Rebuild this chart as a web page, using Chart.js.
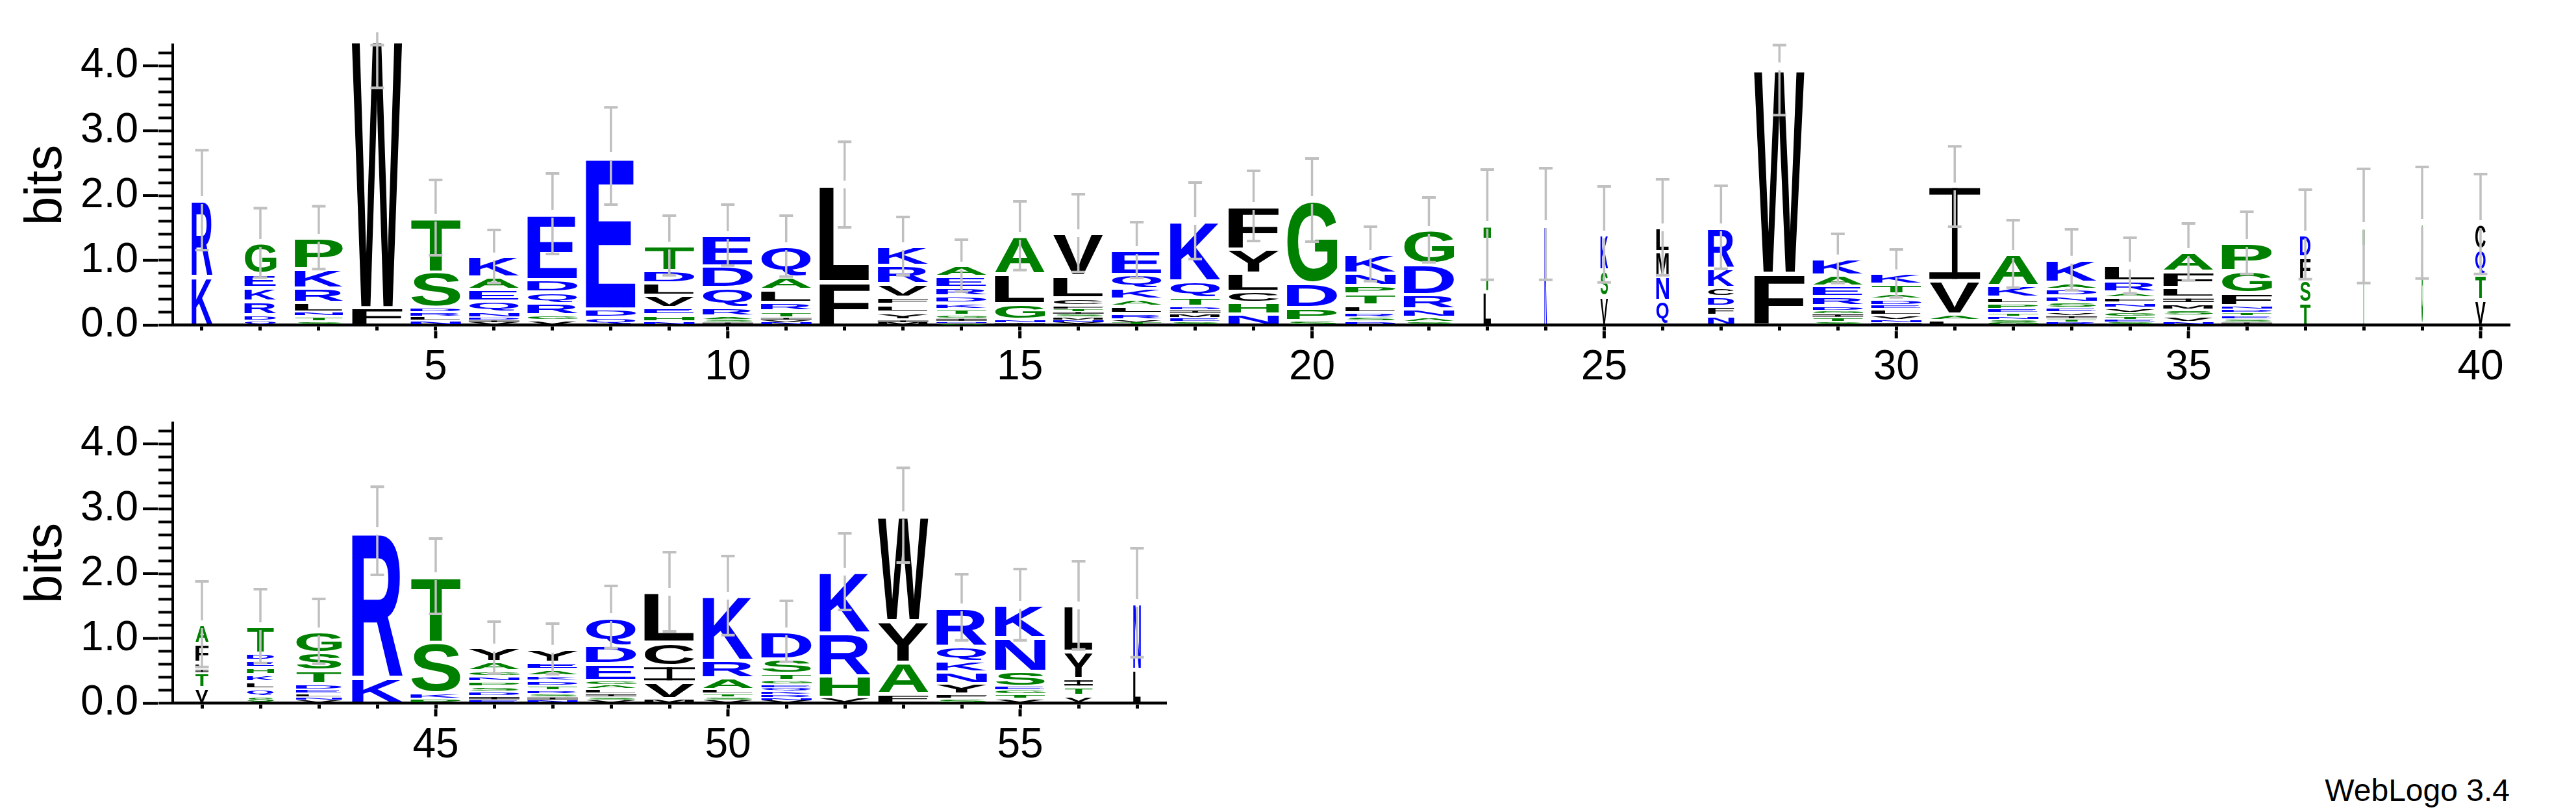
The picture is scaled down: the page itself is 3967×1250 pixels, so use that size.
<!DOCTYPE html>
<html>
<head>
<meta charset="utf-8">
<title>WebLogo</title>
<script src="https://cdn.jsdelivr.net/npm/chart.js@4.4.1/dist/chart.umd.min.js"></script>
<style>
  body { margin: 0; background: #fff; width: 3967px; height: 1250px; position: relative; overflow: hidden; }
  canvas { position: absolute; left: 0; }
  #logoTop { top: 0; }
  #logoBottom { top: 582px; }
  #credit { position: absolute; right: 102px; top: 1193px; font: 48px "Liberation Sans", Arial, sans-serif; line-height: 48px; color: #000; }
</style>
</head>
<body>
<canvas id="logoTop" width="3967" height="620"></canvas>
<canvas id="logoBottom" width="1900" height="620"></canvas>
<div id="credit">WebLogo 3.4</div>
<script>
// ---- data: positions 1-40 (top row) ----
const topPositions = [1,2,3,4,5,6,7,8,9,10,11,12,13,14,15,16,17,18,19,20,21,22,23,24,25,26,27,28,29,30,31,32,33,34,35,36,37,38,39,40];
// letters of each stack, bottom -> top
const topLetters = ['KR','QDRKEG','STNLRKP','FW','NLRDST','VIDNQEAK','VGRQDE','QDE','NHEVLDT','ISARQDE',
  'NVITRLAQ','FL','MIYLFVRK','SNIGTKDREA','INGLA','YNMSITFCLV','TVRLAKQE','SEMIDTQK','NHCLYF','SPDG',
  'DSRLTPNK','SANRDG','LT','K','VSK','QNML','NFDCKR','FW','STIGDREAK','INVLEDATK',
  'LAVI','GSNTEPLKA','RTIVESNDAK','SETGVNFARL','NVSMILFA','ISETDNFGP','TSFD','T','G','VTQC'];
// bits of each letter, same order
const topHeights = [
  [0.75,1.18],[0.07,0.09,0.21,0.21,0.21,0.48],[0.06,0.08,0.06,0.15,0.22,0.30,0.48],[0.27,4.19],
  [0.07,0.06,0.07,0.07,0.55,0.84],[0.04,0.04,0.04,0.09,0.16,0.18,0.19,0.32],[0.08,0.08,0.18,0.17,0.19,1.02],
  [0.12,0.13,2.36],[0.06,0.10,0.11,0.19,0.19,0.19,0.39],[0.05,0.04,0.05,0.13,0.31,0.33,0.48],
  [0.04,0.04,0.04,0.10,0.13,0.20,0.20,0.47],[0.67,1.50],[0.04,0.04,0.12,0.12,0.11,0.21,0.28,0.30],
  [0.03,0.03,0.05,0.05,0.09,0.09,0.11,0.13,0.17,0.17],[0.04,0.05,0.24,0.46,0.59],
  [0.04,0.04,0.05,0.04,0.04,0.04,0.05,0.12,0.34,0.66],[0.04,0.05,0.09,0.11,0.11,0.17,0.21,0.38],
  [0.05,0.06,0.07,0.06,0.05,0.14,0.25,0.93],[0.17,0.18,0.17,0.28,0.37,0.67],[0.07,0.20,0.38,1.28],
  [0.06,0.06,0.07,0.12,0.17,0.13,0.19,0.30],[0.05,0.07,0.13,0.22,0.47,0.53],[0.52,1.03],[1.56],
  [0.45,0.40,0.55],[0.38,0.38,0.37,0.38],[0.15,0.14,0.15,0.14,0.30,0.63],[0.80,3.19],
  [0.05,0.07,0.06,0.04,0.08,0.14,0.16,0.17,0.26],[0.04,0.04,0.08,0.09,0.06,0.10,0.07,0.15,0.17],
  [0.08,0.09,0.52,1.45],[0.04,0.05,0.05,0.05,0.06,0.09,0.09,0.18,0.49],
  [0.05,0.05,0.05,0.05,0.07,0.09,0.09,0.11,0.10,0.35],[0.05,0.04,0.04,0.06,0.08,0.08,0.08,0.08,0.17,0.24],
  [0.05,0.10,0.09,0.10,0.09,0.15,0.25,0.30],[0.05,0.05,0.05,0.05,0.05,0.05,0.20,0.34,0.43],
  [0.35,0.35,0.35,0.35],[1.53],[1.58],[0.39,0.39,0.39,0.39]
];
// stack width (fraction of sequences without a gap)
const topOccupancy = [0.41,0.63,0.96,1,1,1,1,1,1,1,1,1,1,1,1,1,1,1,1,1,1,1,0.15,0.05,0.15,0.25,0.52,1,1,1,1,1,1,1,1,1,0.21,0.04,0.03,0.21];
// error bar half size, bits
const topErrors = [0.77,0.535,0.485,0.80,0.58,0.41,0.62,0.75,0.46,0.47,0.47,0.66,0.45,0.40,0.53,0.60,0.43,0.59,0.54,0.64,
  0.42,0.50,0.85,0.86,0.74,0.74,0.64,0.75,0.38,0.37,0.62,0.52,0.47,0.43,0.44,0.48,0.69,0.88,0.86,0.77];

// ---- data: positions 41-57 (bottom row) ----
const bottomPositions = [41,42,43,44,45,46,47,48,49,50,51,52,53,54,55,56,57];
const bottomLetters = ['VTILFA','SQLKHEDT','VNLEDTSG','KR','PKST','EIDSPNGAY','NISRTDKAEY','VSILAGEDQ','MVICL',
  'VSTLARK','VNRKQEGTSD','VHRK','FAYW','SFYNKQR','VTGESNK','VTIYL','LN'];
const bottomHeights = [
  [0.24,0.23,0.06,0.10,0.29,0.30],[0.11,0.11,0.11,0.11,0.11,0.11,0.11,0.42],[0.05,0.05,0.05,0.06,0.09,0.21,0.27,0.33],
  [0.40,2.26],[0.07,0.09,0.78,1.02],[0.05,0.06,0.07,0.08,0.08,0.08,0.08,0.14,0.22],
  [0.05,0.05,0.05,0.05,0.07,0.08,0.08,0.09,0.11,0.21],[0.05,0.05,0.05,0.07,0.06,0.07,0.26,0.28,0.44],
  [0.07,0.26,0.25,0.36,0.78],[0.05,0.05,0.05,0.06,0.18,0.27,1.00],[0.04,0.05,0.05,0.05,0.05,0.05,0.06,0.11,0.22,0.43],
  [0.09,0.33,0.66,0.95],[0.15,0.48,0.64,1.63],[0.07,0.07,0.16,0.18,0.16,0.24,0.60],
  [0.07,0.07,0.06,0.06,0.23,0.52,0.51],[0.12,0.13,0.13,0.42,0.71],[0.52,1.03]
];
const bottomOccupancy = [0.26,0.54,0.91,1,1,1,1,1,1,1,1,1,1,1,1,0.56,0.15];
const bottomErrors = [0.66,0.57,0.50,0.68,0.58,0.40,0.39,0.48,0.61,0.61,0.47,0.59,0.73,0.51,0.55,0.68,0.84];

// y ticks (bits) and the top of the axis
const yTicks = [0,0.2,0.4,0.6,0.8,1,1.2,1.4,1.6,1.8,2,2.2,2.4,2.6,2.8,3,3.2,3.4,3.6,3.8,4,4.2];
const yMajor = [0,1,2,3,4];
const maxBits = 4.32;

// hydrophobicity colours
const letterColor = {};
'RKDENQ'.split('').forEach(c => letterColor[c] = '#0000ff');
'SGHTAP'.split('').forEach(c => letterColor[c] = '#008000');
'YVMCLFIW'.split('').forEach(c => letterColor[c] = '#000000');

const FONT = '"Liberation Sans", Arial, Helvetica, sans-serif';
Chart.defaults.color = '#000';
Chart.defaults.font.family = FONT;

// glyph ink box, measured once per letter
const glyphFont = 'bold 400px ' + FONT;
const glyphCache = {};
function glyphBox(ctx, ch) {
    if (!glyphCache[ch]) {
        ctx.save();
        ctx.font = glyphFont;
        const m = ctx.measureText(ch);
        ctx.restore();
        glyphCache[ch] = { l: m.actualBoundingBoxLeft, r: m.actualBoundingBoxRight, a: m.actualBoundingBoxAscent, d: m.actualBoundingBoxDescent };
    }
    return glyphCache[ch];
}

// stretch a letter so its ink fills the box
function drawGlyph(ctx, ch, x, y, w, h) {
    if (w <= 0 || h <= 0) return;
    ctx.save();
    ctx.fillStyle = letterColor[ch] || '#000';
    if (ch === 'I') {
        // weblogo's I has bars top and bottom
        const t = Math.min(h / 3, 0.06 * h + 1.7);
        const s = Math.max(1, 0.11 * w);
        ctx.fillRect(x, y, w, t);
        ctx.fillRect(x + (w - s) / 2, y, s, h);
        ctx.fillRect(x, y + h - t, w, t);
        ctx.restore();
        return;
    }
    const b = glyphBox(ctx, ch);
    ctx.font = glyphFont;
    ctx.textAlign = 'left';
    ctx.textBaseline = 'alphabetic';
    ctx.translate(x, y);
    ctx.scale(w / (b.l + b.r), h / (b.a + b.d));
    ctx.fillText(ch, b.l, b.a);
    ctx.restore();
}

// one floating-bar dataset per level of the stacks
function buildDatasets(positions, letters, heights, occupancy) {
    const depth = Math.max(...letters.map(s => s.length));
    const sets = [];
    for (let k = 0; k < depth; k++) {
        const data = [];
        positions.forEach((p, i) => {
            if (letters[i].length > k) {
                let base = 0;
                for (let j = 0; j < k; j++) base += heights[i][j];
                data.push({ x: p, y: [base, base + heights[i][k]], letter: letters[i][k], occ: occupancy[i] });
            }
        });
        sets.push({ data: data, backgroundColor: 'rgba(0,0,0,0)', borderWidth: 0, grouped: false,
                    categoryPercentage: 1, barPercentage: 0.867 });
    }
    return sets;
}

// draws letters, error bars and the long ticks
const logoPlugin = {
    id: 'logo',
    afterDatasetsDraw(chart) {
        const ctx = chart.ctx;
        chart.data.datasets.forEach((ds, di) => {
            chart.getDatasetMeta(di).data.forEach((bar, i) => {
                const pt = ds.data[i];
                const p = bar.getProps(['x', 'y', 'base', 'width'], true);
                const top = Math.min(p.y, p.base);
                const h = Math.abs(p.base - p.y);
                const pad = Math.min(2.5, h * 0.22);
                const w = p.width * pt.occ;
                drawGlyph(ctx, pt.letter, p.x - w / 2, top + pad, w, h - 2 * pad);
            });
        });
        // error bars
        const o = chart.options.plugins.logo;
        const xs = chart.scales.x, ys = chart.scales.y;
        ctx.save();
        ctx.strokeStyle = '#c0c0c0';
        o.positions.forEach((pos, i) => {
            const total = o.heights[i].reduce((a, b) => a + b, 0);
            const x = xs.getPixelForValue(pos);
            const yT = ys.getPixelForValue(total);
            const yH = ys.getPixelForValue(Math.min(total + o.errors[i], maxBits));
            const yL = ys.getPixelForValue(Math.max(total - o.errors[i], 0));
            ctx.lineWidth = 3.5;
            ctx.beginPath();
            ctx.moveTo(x, yH); ctx.lineTo(x, yT - 6);
            ctx.moveTo(x, yT + 6); ctx.lineTo(x, yL);
            ctx.stroke();
            ctx.lineWidth = 4;
            ctx.beginPath();
            ctx.moveTo(x - 10.5, yH); ctx.lineTo(x + 10.5, yH);
            ctx.moveTo(x - 10.5, yL); ctx.lineTo(x + 10.5, yL);
            ctx.stroke();
        });
        ctx.restore();
    },
    afterDraw(chart) {
        // major ticks are longer than the minor ones
        const ctx = chart.ctx;
        const xs = chart.scales.x, ys = chart.scales.y, area = chart.chartArea;
        ctx.save();
        ctx.strokeStyle = '#000';
        ctx.lineWidth = 4;
        ctx.beginPath();
        yMajor.forEach(v => {
            const y = ys.getPixelForValue(v);
            ctx.moveTo(area.left - 23, y); ctx.lineTo(area.left - 46, y);
        });
        ctx.stroke();
        ctx.lineWidth = 5;
        ctx.beginPath();
        chart.options.plugins.logo.positions.forEach(v => {
            if (v % 5 !== 0) return;
            const x = xs.getPixelForValue(v);
            ctx.moveTo(x, area.bottom + 9); ctx.lineTo(x, area.bottom + 20);
        });
        ctx.stroke();
        ctx.restore();
    }
};

function makeLogo(canvasId, positions, letters, heights, occupancy, errors, padRight) {
    const first = positions[0], last = positions[positions.length - 1];
    return new Chart(document.getElementById(canvasId), {
        type: 'bar',
        data: { datasets: buildDatasets(positions, letters, heights, occupancy) },
        options: {
            responsive: false,
            animation: false,
            devicePixelRatio: 1,
            layout: { padding: { left: 0, right: padRight, top: 48.8, bottom: 0 } },
            plugins: {
                legend: { display: false },
                tooltip: { enabled: false },
                logo: { positions: positions, heights: heights, errors: errors }
            },
            scales: {
                x: {
                    type: 'linear', offset: false, min: first - 0.5, max: last + 0.5,
                    afterBuildTicks: s => { s.ticks = positions.map(v => ({ value: v })); },
                    afterFit: s => { s.height = 119.3; },
                    grid: { offset: false, drawOnChartArea: false, tickLength: 8, tickWidth: 5, tickColor: '#000' },
                    border: { display: true, width: 4.5, color: '#000' },
                    ticks: { autoSkip: false, maxRotation: 0, padding: 19, font: { size: 64 },
                             callback: v => (v % 5 === 0 ? String(v) : '') }
                },
                y: {
                    type: 'linear', min: 0, max: maxBits,
                    afterBuildTicks: s => { s.ticks = yTicks.map(v => ({ value: v })); },
                    afterFit: s => { s.width = 266; },
                    grid: { drawOnChartArea: false, tickLength: 22, tickWidth: 4, tickColor: '#000' },
                    border: { display: true, width: 4, color: '#000' },
                    ticks: { autoSkip: false, padding: 31, font: { size: 64 },
                             callback: v => (yMajor.includes(v) ? v.toFixed(1) : '') },
                    title: { display: true, text: 'bits', font: { size: 80, lineHeight: 1.2 }, padding: { top: 24, bottom: 0 } }
                }
            }
        },
        plugins: [logoPlugin]
    });
}

const logoTop = makeLogo('logoTop', topPositions, topLetters, topHeights, topOccupancy, topErrors, 102);
const logoBottom = makeLogo('logoBottom', bottomPositions, bottomLetters, bottomHeights, bottomOccupancy, bottomErrors, 104);
</script>
</body>
</html>
